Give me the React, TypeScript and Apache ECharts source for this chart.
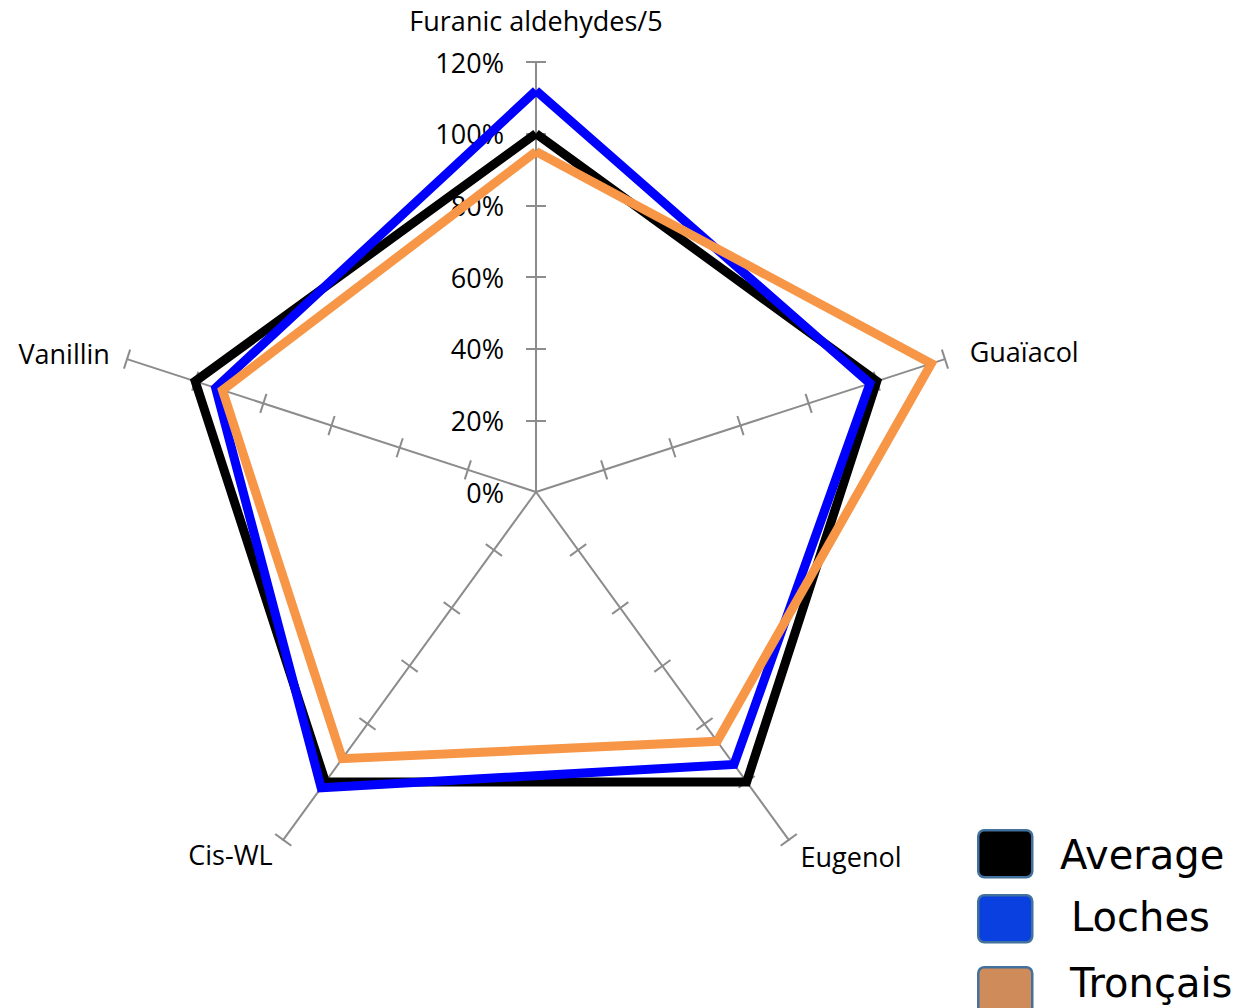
import React, { useEffect, useRef } from 'react';
import * as echarts from 'echarts';

// Radar spokes, listed counter-clockwise from the top
const indicatorNames = ['Furanic aldehydes/5', 'Vanillin', 'Cis-WL', 'Eugenol', 'Guaïacol'];
const axisMax = 120;
const tickValues = [20, 40, 60, 80, 100, 120];

// Series values (% of the average profile)
const seriesNames = ['Average', 'Loches', 'Tronçais'];
const averageValues = [100, 100, 100, 100, 100];
const lochesValues = [112, 94, 102, 94, 98];
const troncaisValues = [95, 92, 92, 86, 116];

const lineColors = ['#000000', '#0000FF', '#F79646'];
const legendColors = ['#000000', '#0A3FE0', '#D08B5B'];

// distance between each spoke end and its name
const nameGaps = [28, 18, 18, 20, 26];

// legend swatch / label placement
const legendBoxTops = [829, 894, 966];
const legendTextX = [1060, 1071, 1070];
const legendTextY = [855, 917, 983];

const labelFont = 'Open Sans';
const axisGrey = '#8C8C8C';

export default function App() {
  const ref = useRef<HTMLDivElement>(null);

  useEffect(() => {
    document.body.style.margin = '0';
    if (!ref.current) return;
    const chart = echarts.init(ref.current, undefined, { renderer: 'svg' });

    const values = [averageValues, lochesValues, troncaisValues];

    const baseRadar = {
      center: [536, 492],
      radius: 430,
      startAngle: 90,
      shape: 'polygon',
      splitNumber: 6,
      splitLine: { show: false },
      splitArea: { show: false },
    };

    const legendGraphics: any[] = [];
    seriesNames.forEach((name, i) => {
      legendGraphics.push({
        type: 'rect',
        left: 977,
        top: legendBoxTops[i],
        shape: { width: 54, height: 47, r: 6 },
        style: { fill: legendColors[i], stroke: '#41719C', lineWidth: 2.5 },
      });
      legendGraphics.push({
        type: 'text',
        x: legendTextX[i],
        y: legendTextY[i],
        style: {
          text: name,
          fill: '#000000',
          font: '40px "DejaVu Sans"',
          textAlign: 'left',
          textVerticalAlign: 'middle',
        },
      });
    });

    chart.setOption({
      animation: false,
      backgroundColor: '#ffffff',
      radar: [
        {
          ...baseRadar,
          indicator: indicatorNames.map((name, i) => ({
            name,
            min: 0,
            max: axisMax,
            nameGap: nameGaps[i],
            axisLabel: { show: i === 0 },
          })),
          axisName: {
            color: '#000000',
            fontSize: 27,
            fontFamily: labelFont,
          },
          axisLine: { show: true, lineStyle: { color: axisGrey, width: 2 } },
          axisTick: {
            show: true,
            length: 10,
            customValues: tickValues,
            lineStyle: { color: axisGrey, width: 2 },
          },
          axisLabel: {
            show: true,
            formatter: '{value}%',
            color: '#000000',
            fontSize: 27,
            fontFamily: labelFont,
            margin: 32,
          },
        },
        {
          // mirror ticks on the other side of each spoke so they cross it
          ...baseRadar,
          indicator: indicatorNames.map((name) => ({ name, min: 0, max: axisMax })),
          axisName: { show: false },
          axisLine: { show: false },
          axisLabel: { show: false },
          axisTick: {
            show: true,
            length: -10,
            customValues: tickValues,
            lineStyle: { color: axisGrey, width: 2 },
          },
        },
      ],
      graphic: legendGraphics,
      series: [
        {
          type: 'radar',
          radarIndex: 0,
          symbol: 'none',
          data: seriesNames.map((name, i) => ({
            name,
            value: values[i],
            itemStyle: { color: lineColors[i] },
            lineStyle: { color: lineColors[i], width: 9, join: 'miter', miterLimit: 10 },
          })),
        },
      ],
    });

    return () => chart.dispose();
  }, []);

  return <div ref={ref} style={{ width: 1243, height: 1008 }} />;
}
